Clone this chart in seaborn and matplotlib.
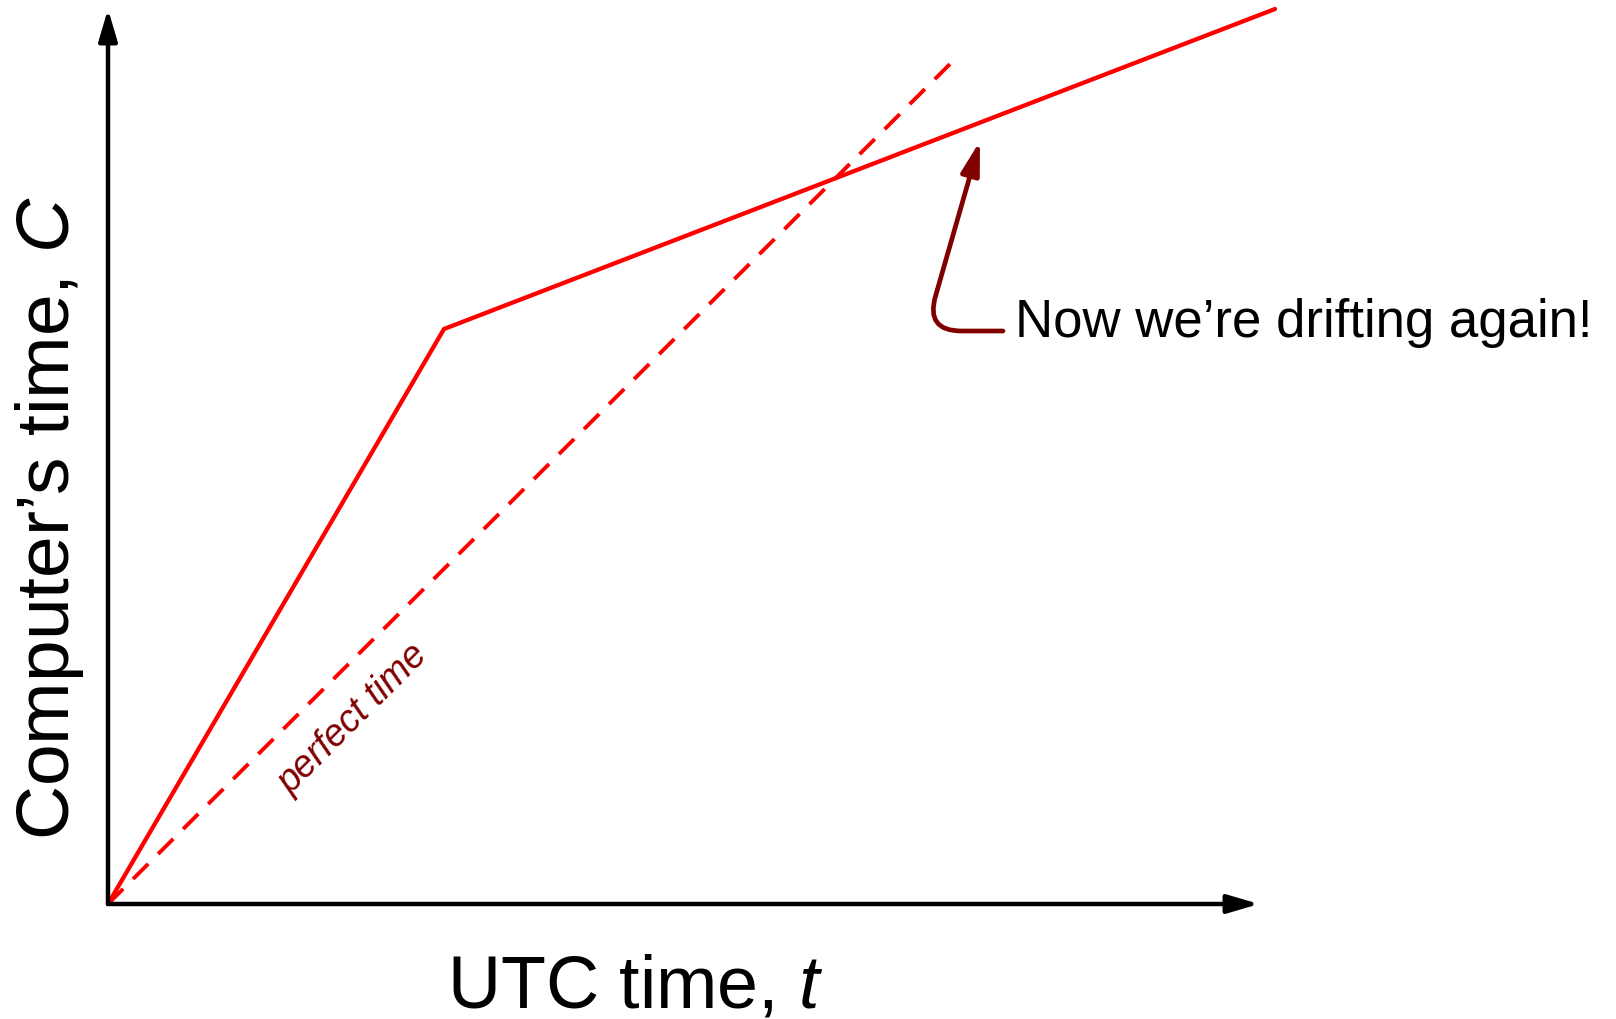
import matplotlib
matplotlib.use("Agg")
import matplotlib.pyplot as plt
import seaborn as sns
import pandas as pd

# ---- data (abstract units) ----
utc_time = [0.0, 3.36, 11.67]          # t
computer_time = [0.0, 5.75, 8.95]      # C (drifting clock)
perfect_t = [0.0, 8.42]
perfect_c = [0.0, 8.40]

x_label = "UTC time, $\\mathit{t}$"
y_label = "Computer\u2019s time, $\\mathit{C}$"
line_label = "perfect time"
note_text = "Now we\u2019re drifting again!"
note_tip = (8.72, 7.63)
note_start = (8.95, 5.73)

sns.set_style("white")
plt.rcParams["font.family"] = ["Liberation Sans", "DejaVu Sans"]
plt.rcParams["mathtext.fontset"] = "custom"
plt.rcParams["mathtext.it"] = "Liberation Sans:italic"
plt.rcParams["mathtext.rm"] = "Liberation Sans"

fig = plt.figure(figsize=(16.16, 10.2), dpi=100)
ax = fig.add_axes([108 / 1616, 115 / 1020, 1151 / 1616, 895 / 1020])
ax.set_xlim(0, 11.51)
ax.set_ylim(0, 8.95)

df = pd.DataFrame({"t": utc_time, "C": computer_time})
dp = pd.DataFrame({"t": perfect_t, "C": perfect_c})

sns.lineplot(data=dp, x="t", y="C", ax=ax, color="#ff0000", lw=2.8,
             linestyle=(0, (5.5, 3.6)), clip_on=False, sort=False)
sns.lineplot(data=df, x="t", y="C", ax=ax, color="#ff0000", lw=3.1,
             clip_on=False, sort=False)

for s in ax.spines.values():
    s.set_visible(False)
ax.set_xticks([])
ax.set_yticks([])
ax.set_xlabel("")
ax.set_ylabel("")

# axis arrows
arrow_kw = dict(arrowstyle="-|>,head_length=0.95,head_width=0.28", color="black",
                lw=3.2, mutation_scale=20, shrinkA=0, shrinkB=0)
ax.annotate("", xy=(1.0, 0.0), xytext=(0.0, 0.0), xycoords="axes fraction",
            textcoords="axes fraction", arrowprops=arrow_kw, annotation_clip=False)
ax.annotate("", xy=(0.0, 1.0), xytext=(0.0, 0.0), xycoords="axes fraction",
            textcoords="axes fraction", arrowprops=arrow_kw, annotation_clip=False)

# labels
ax.text(0.458, -0.115, x_label, transform=ax.transAxes, ha="center", va="baseline",
        fontsize=53, color="black")
ax.text(-0.0505, 0.432, y_label, transform=ax.transAxes, ha="center", va="center",
        rotation=90, fontsize=54, color="black")

# perfect time label
ax.text(2.45, 1.86, line_label, rotation=45, rotation_mode="anchor", ha="center",
        va="center", fontsize=27, style="italic", color="#800000")

# annotation
ax.annotate("", xy=note_tip, xytext=note_start,
            arrowprops=dict(arrowstyle="-|>,head_length=1.0,head_width=0.28",
                            color="#800000", lw=3.4, mutation_scale=20,
                            shrinkA=0, shrinkB=0,
                            connectionstyle="angle,angleA=0,angleB=74,rad=36"),
            annotation_clip=False)
ax.text(9.07, 5.68, note_text, ha="left", va="baseline", fontsize=38, color="black")

fig.savefig("out.png", dpi=100)
